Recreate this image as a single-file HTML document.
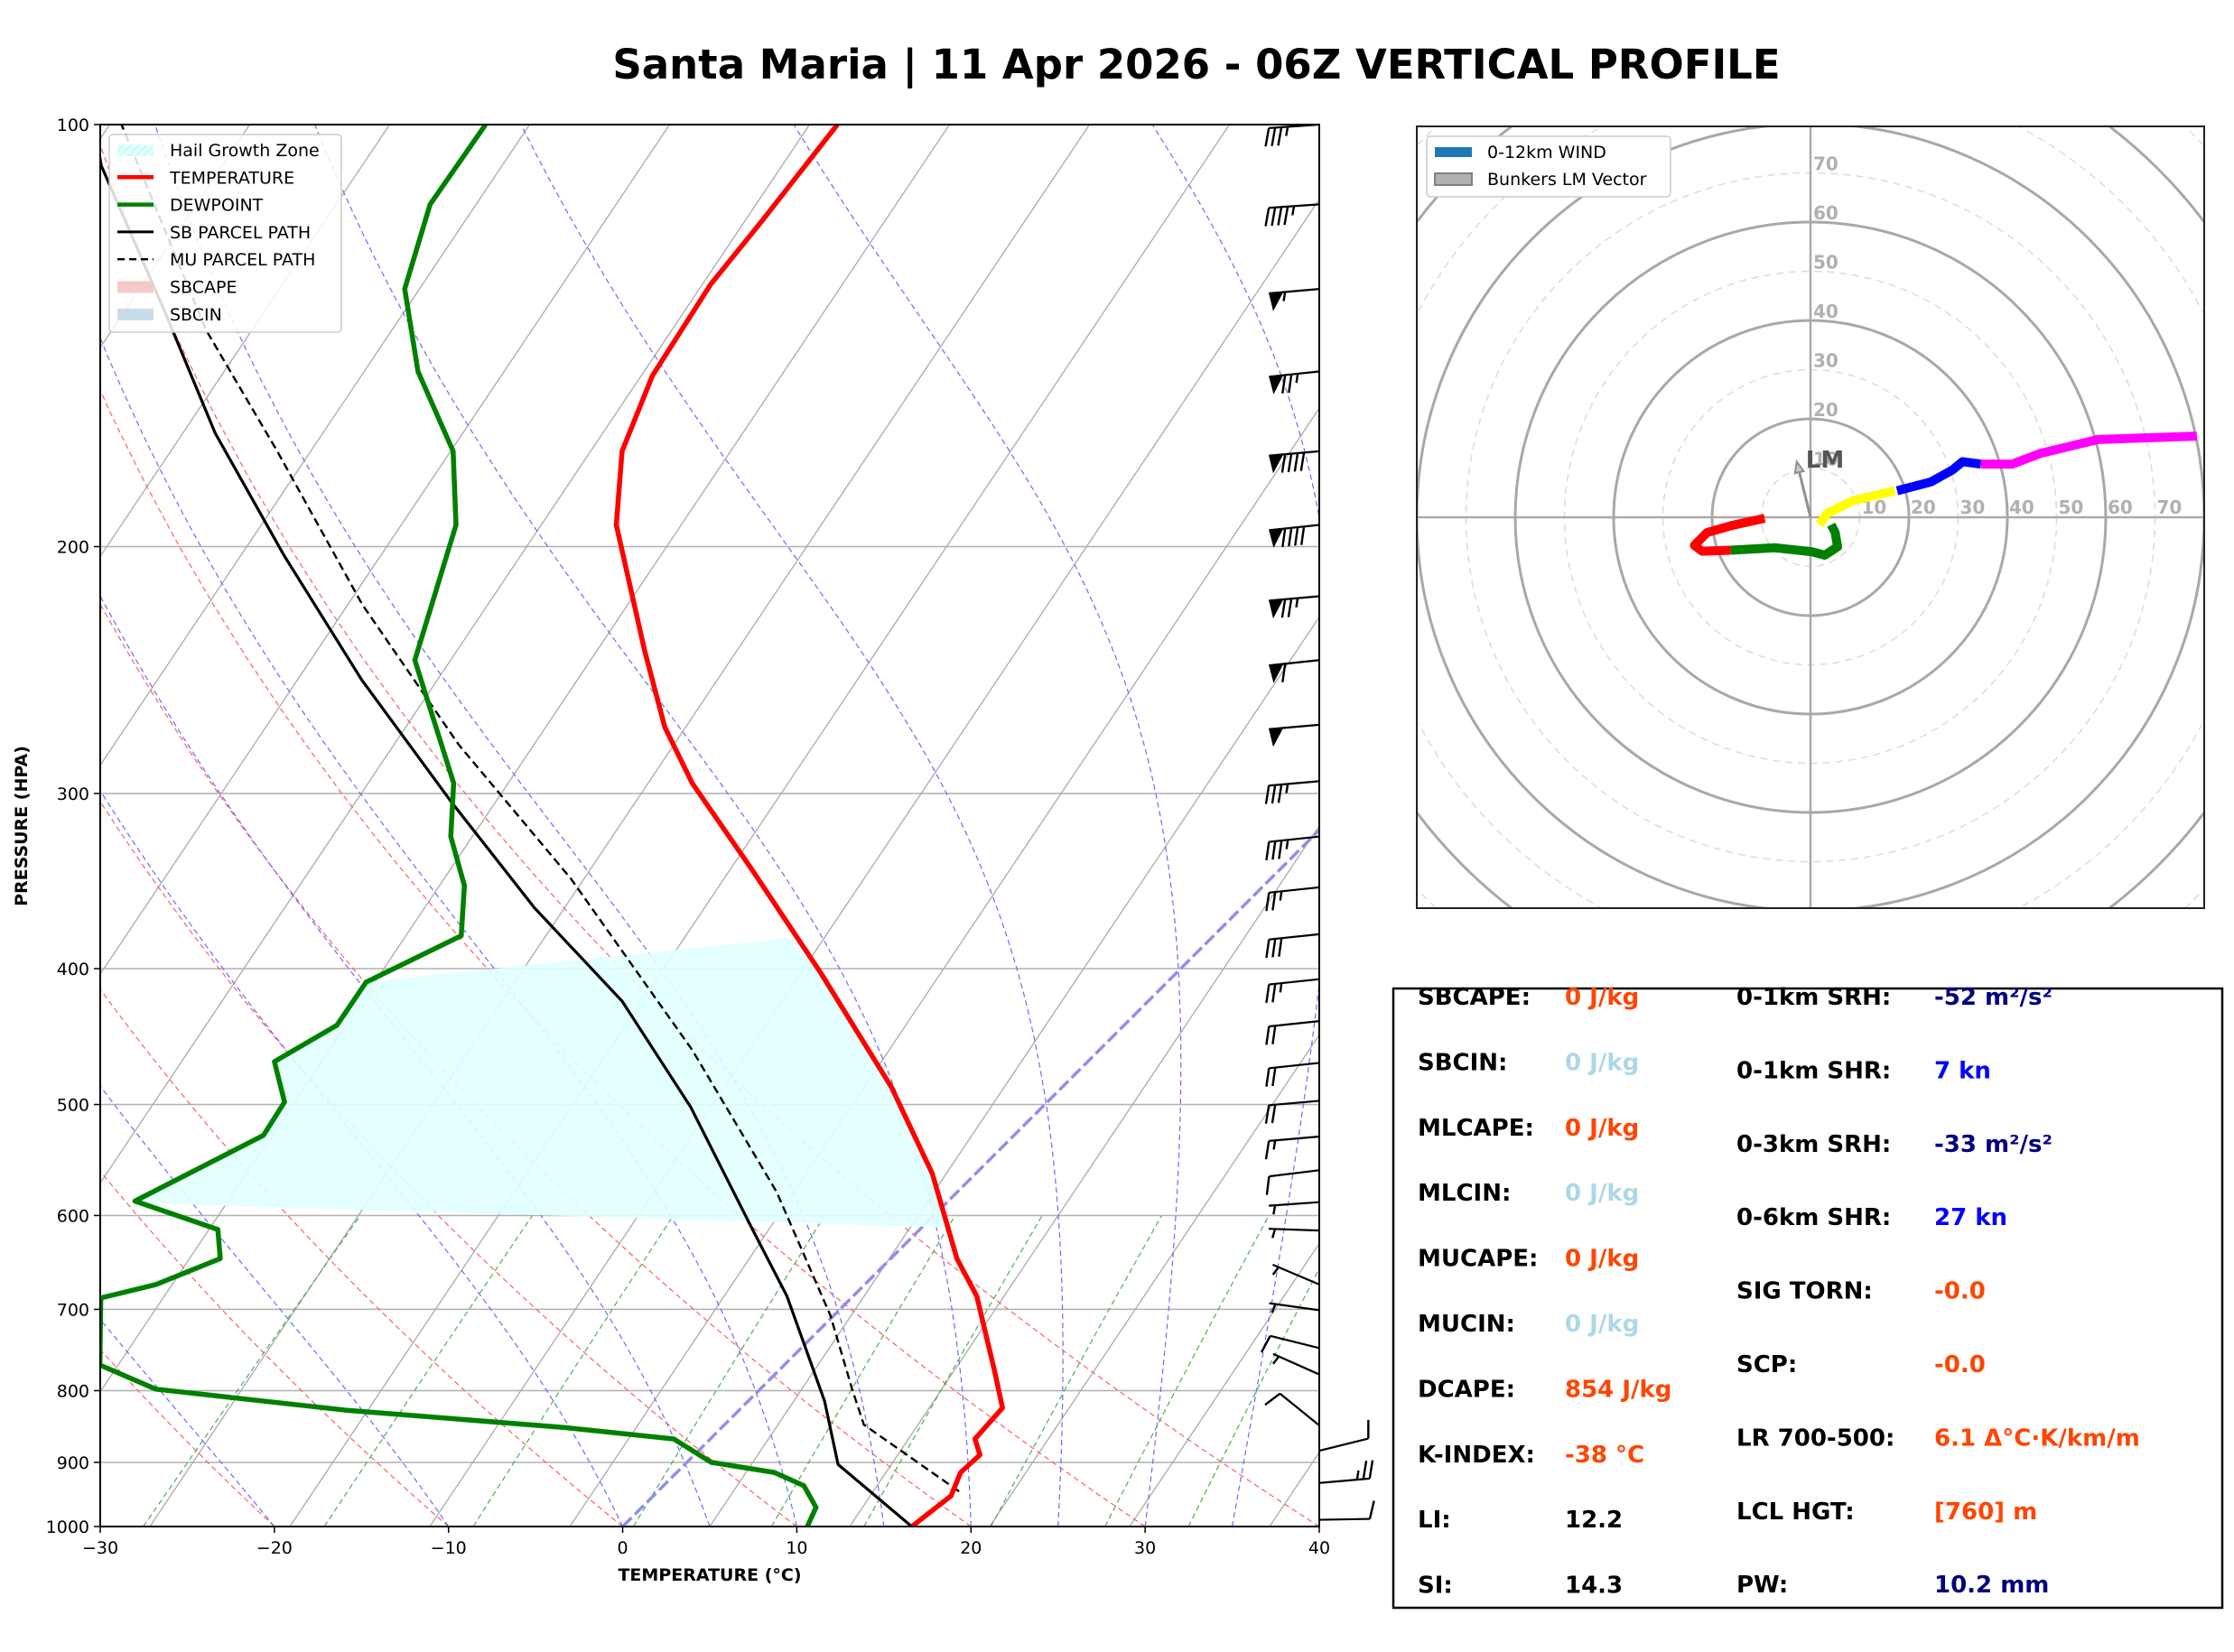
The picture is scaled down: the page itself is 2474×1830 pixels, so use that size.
<!DOCTYPE html>
<html><head><meta charset="utf-8">
<style>
html,body{margin:0;padding:0;background:#fff;}
svg{display:block;font-family:"DejaVu Sans","Liberation Sans",sans-serif;}
</style></head>
<body>
<svg id="root" width="2474" height="1830" viewBox="0 0 2474 1830" xmlns="http://www.w3.org/2000/svg">
<defs>
<clipPath id="plotclip"><rect x="111" y="138" width="1350" height="1553"/></clipPath>
<clipPath id="hodoclip"><rect x="1569" y="140" width="872" height="866"/></clipPath>
<pattern id="hatch" width="6" height="6" patternUnits="userSpaceOnUse" patternTransform="rotate(45)"><line x1="0" y1="0" x2="0" y2="6" stroke="#bbeeee" stroke-width="1.5"/></pattern>
</defs>
<text x="1325" y="87" text-anchor="middle" font-size="45" font-weight="bold">Santa Maria | 11 Apr 2026 - 06Z VERTICAL PROFILE</text>
<g id="skew"></g>
<g id="hodo"></g>
<g id="stats">
<rect x="1543" y="1095" width="918" height="686" fill="none" stroke="#000" stroke-width="2.5"/>
</g>
</svg>
<script>
// ---------- data ----------
const tempP = [1000,951,915,889,866,823,776,685,644,560,486,403,340,295,269,237,193,171,151,130,117,100];
const tempT = [16.6,17.1,16.3,16.4,15.2,15.0,12.5,7.1,3.8,-2.5,-9.8,-20.4,-30.3,-38.7,-43.5,-49.1,-57.9,-61.8,-64.4,-66.3,-67.0,-68.2];
const dewP = [1000,969,935,915,900,866,850,826,798,767,687,672,644,614,586,526,498,466,439,409,379,349,322,295,241,193,171,150,131,114,100];
const dewT = [10.6,10.0,8.05,5.6,1.4,-2.1,-9.0,-22.6,-34.7,-39.3,-43.1,-40.7,-38.5,-40.3,-46.7,-43.1,-43.8,-46.7,-45.2,-46.0,-43.2,-45.9,-49.5,-52.4,-61.7,-67.1,-71.5,-78.1,-83.6,-87.0,-88.4];
const sbP = [1000,903,814,685,614,502,422,362,304,249,203,166,137,107,95];
const sbT = [16.6,8.8,4.4,-3.8,-9.6,-20.2,-30.2,-40.6,-51.5,-63.6,-75.2,-86.2,-95.7,-108.1,-113];
const muP = [944,846,800,707,577,457,345,277,220,171,140,100];
const muT = [17.3,8.0,5.4,-0.2,-10.4,-23.4,-40.2,-54.3,-67.9,-81.6,-92.7,-109.3];
const hgzTdRange = [409,588];
const hgzTRange = [380,612];
const pressureTicks = [100,200,300,400,500,600,700,800,900,1000];
const tempTicks = [-30,-20,-10,0,10,20,30,40];
const mixingRatios = [0.4,1,2,4,7,10,16,24,32];
const dryThetas = [-30,-20,-10,0,10,20,30,40];
const moistT0 = [-30,-20,-10,0,5,10,15,20,25,30,35,40];
const barbP = [100,114,131,150,171,193,217,241,268,294,322,350,378,407,436,467,497,527,557,587,615,672,701,746,779,847,883,931,989];
const barbSpd = [35,45,55,75,90,90,75,60,50,35,35,25,30,25,20,20,20,15,10,5,5,5,5,10,5,10,10,25,10];
const barbDir = [266,266,265,264,265,264,265,264,265,265,264,264,264,264,264,264,265,265,263,266,272,293,278,284,294,309,76,85,89];
const hodoRedU = [-9.3,-15.7,-21,-23.6,-22,-16.2];
const hodoRedV = [-0.2,-1.6,-3.1,-5.7,-6.9,-6.7];
const hodoGreenU = [-16.2,-7.2,0.2,2.9,5.5,5,4.2];
const hodoGreenV = [-6.7,-6.2,-7,-7.7,-6,-3.1,-1.5];
const hodoYellowU = [1.8,3.4,8.7,17.1];
const hodoYellowV = [-1.5,0.8,3.4,5.4];
const hodoBlueU = [17.6,24.5,28.8,30.9,34.6];
const hodoBlueV = [5.4,7.2,9.6,11.3,10.8];
const hodoMagU = [34.6,41,46.8,58.4,78.5];
const hodoMagV = [10.8,10.8,13,15.8,16.5];
const lmU = -2.8, lmV = 11.3;
const hodoRings = [10,20,30,40,50,60,70,80,90,100,110];

// ---------- helpers ----------
const NS="http://www.w3.org/2000/svg";
function mk(tag, attrs, parent){const e=document.createElementNS(NS,tag);for(const k in attrs)e.setAttribute(k,attrs[k]);if(parent)parent.appendChild(e);return e;}
const X0=111, Y0=1691, PPD=1350/70, LOGH=1553;
function Y(p){return Y0 - Math.log10(1000/p)*LOGH;}
function X(T,p){return X0 + (T+30)*PPD + (Y0 - Y(p));}
function pathFrom(ps,ts){return ps.map((p,i)=>(i?'L':'M')+X(ts[i],p).toFixed(1)+','+Y(p).toFixed(1)).join(' ');}
function interp(ps,ts,p){const lp=Math.log(p);for(let i=0;i<ps.length-1;i++){const a=Math.log(ps[i]),b=Math.log(ps[i+1]);if((lp<=a&&lp>=b)||(lp>=a&&lp<=b)){const f=(lp-a)/(b-a);return ts[i]+f*(ts[i+1]-ts[i]);}}return ts[ts.length-1];}

const skew=document.getElementById('skew');
const clipG=mk('g',{'clip-path':'url(#plotclip)'},skew);



// isobars
pressureTicks.forEach(p=>{const l=mk('line',{x1:X0,x2:1461,y1:Y(p),y2:Y(p),stroke:'#b0b0b0','stroke-width':1.5},clipG);

});
// gray grid diagonals
for(let k=-12;k<=10;k++){const xb=166+k*155;const l=mk('line',{x1:xb,y1:Y0,x2:xb+0.67*1553,y2:138,stroke:'#aaaaaa','stroke-width':1.3},clipG);

}
// dry adiabats
dryThetas.forEach(th=>{const ps=[],ts=[];for(let p=1000;p>=100;p-=20){ps.push(p);ts.push((th+273.15)*Math.pow(p/1000,0.2857)-273.15);}
const l=mk('path',{d:pathFrom(ps,ts),fill:'none',stroke:'#ff6060','stroke-width':1.2,'stroke-dasharray':'6,4'},clipG);

});
// moist adiabats
function es(Tc){return 6.112*Math.exp(17.67*Tc/(Tc+243.5));}
moistT0.forEach(t0=>{let T=t0+273.15;const ps=[1000],ts=[t0];
for(let p=1000;p>100;p-=5){const e=es(T-273.15);const rs=0.622*e/(p-e);const dTdp=(287*T+2.5e6*rs)/(1005+2.5e6*2.5e6*rs*0.622/(287*T*T))/p;T-=dTdp*5;ps.push(p-5);ts.push(T-273.15);}
const l=mk('path',{d:pathFrom(ps,ts),fill:'none',stroke:'#6a6aff','stroke-width':1.2,'stroke-dasharray':'6,4'},clipG);

});
// mixing ratio lines
mixingRatios.forEach(w=>{const ps=[],ts=[];for(let p=1000;p>=600;p-=20){const e=p*(w/1000)/(0.622+w/1000);const a=Math.log(e/6.112);ps.push(p);ts.push(243.5*a/(17.67-a));}
const l=mk('path',{d:pathFrom(ps,ts),fill:'none',stroke:'#4caf50','stroke-width':1.2,'stroke-dasharray':'6,4'},clipG);

});
// zero isotherm
const zi=mk('line',{x1:X(0,1000),y1:Y(1000),x2:X(0,100),y2:Y(100),stroke:'#8f8fe8','stroke-width':3.5,'stroke-dasharray':'14,5'},clipG);



// hail growth zone
(function(){let d='';const n=30;
for(let i=0;i<=n;i++){const p=hgzTdRange[0]+(hgzTdRange[1]-hgzTdRange[0])*i/n;const t=interp(dewP,dewT,p);d+=(i?'L':'M')+X(t,p).toFixed(1)+','+Y(p).toFixed(1)+' ';}
for(let i=0;i<=n;i++){const p=hgzTRange[1]-(hgzTRange[1]-hgzTRange[0])*i/n;const t=interp(tempP,tempT,p);d+='L'+X(t,p).toFixed(1)+','+Y(p).toFixed(1)+' ';}
d+='Z';const e=mk('path',{d:d,fill:'#e0ffff','fill-opacity':0.9,stroke:'none'},clipG);

})();

// profiles
const sb=mk('path',{d:pathFrom(sbP,sbT),fill:'none',stroke:'#000','stroke-width':3.2},clipG);


const mu=mk('path',{d:pathFrom(muP,muT),fill:'none',stroke:'#000','stroke-width':2.4,'stroke-dasharray':'9,5'},clipG);


const dw=mk('path',{d:pathFrom(dewP,dewT),fill:'none',stroke:'#008000','stroke-width':5.5,'stroke-linejoin':'round'},clipG);


const tl=mk('path',{d:pathFrom(tempP,tempT),fill:'none',stroke:'#ff0000','stroke-width':5.5,'stroke-linejoin':'round'},clipG);



// axes frame
const fr=mk('rect',{x:X0,y:138,width:1350,height:1553,fill:'none',stroke:'#000','stroke-width':2},skew);


pressureTicks.forEach(p=>{mk('line',{x1:X0-7,x2:X0,y1:Y(p),y2:Y(p),stroke:'#000','stroke-width':1.5},skew);
const t=mk('text',{x:X0-12,y:Y(p)+7,'text-anchor':'end','font-size':19},skew);t.textContent=p;

});
tempTicks.forEach(T=>{const x=X0+(T+30)*PPD;mk('line',{x1:x,x2:x,y1:Y0,y2:Y0+7,stroke:'#000','stroke-width':1.5},skew);
const t=mk('text',{x:x,y:Y0+30,'text-anchor':'middle','font-size':19},skew);t.textContent=(T<0?'\u2212'+(-T):T);

});
const xl=mk('text',{x:786,y:1751,'text-anchor':'middle','font-size':19,'font-weight':'bold'},skew);xl.textContent='TEMPERATURE (\u00B0C)';


const yl=mk('text',{x:0,y:0,'text-anchor':'middle','font-size':19,'font-weight':'bold',transform:'translate(30,915) rotate(-90)'},skew);yl.textContent='PRESSURE (HPA)';



// wind barbs
function drawBarb(p,spd,dir){const g=mk('g',{},skew);


const bx=1461,by=Y(p),L=56,r=dir*Math.PI/180;const sx=Math.sin(r),sy=-Math.cos(r);
const tx=bx+sx*L,ty=by+sy*L;mk('line',{x1:bx,y1:by,x2:tx,y2:ty,stroke:'#000','stroke-width':2.2},g);
const px=sy,py=-sx;let s=Math.round(spd/5)*5;let pos=0;const step=7,bl=20;
while(s>=50){const ax=tx-sx*pos,ay=ty-sy*pos,cx=tx-sx*(pos+16),cy=ty-sy*(pos+16);
mk('path',{d:`M${ax},${ay} L${cx},${cy} L${ax-sx*3+px*bl},${ay-sy*3+py*bl} Z`,fill:'#000'},g);pos+=18;s-=50;}
while(s>=10){const ax=tx-sx*pos,ay=ty-sy*pos;mk('line',{x1:ax,y1:ay,x2:ax+px*bl+sx*5,y2:ay+py*bl+sy*5,stroke:'#000','stroke-width':2.4},g);pos+=step;s-=10;}
if(s>=5){if(pos===0)pos=step;const ax=tx-sx*pos,ay=ty-sy*pos;mk('line',{x1:ax,y1:ay,x2:ax+px*bl*0.5+sx*2.5,y2:ay+py*bl*0.5+sy*2.5,stroke:'#000','stroke-width':2.4},g);}}
barbP.forEach((p,i)=>drawBarb(p,barbSpd[i],barbDir[i]));

// skewt legend
(function(){const g=mk('g',{},skew);


mk('rect',{x:121,y:149,width:257,height:219,rx:4,fill:'#fff','fill-opacity':0.85,stroke:'#ccc','stroke-width':1.5},g);
const items=[['patch','#dffefe','Hail Growth Zone'],['line','#ff0000','TEMPERATURE'],['line','#008000','DEWPOINT'],['line','#000','SB PARCEL PATH'],['dash','#000','MU PARCEL PATH'],['patch','#f6c9c9','SBCAPE'],['patch','#c8dcea','SBCIN']];
items.forEach((it,i)=>{const y=166+i*30.3;
if(it[0]==='patch'){mk('rect',{x:130,y:y-6,width:40,height:13,fill:it[1]},g);if(i===0)mk('rect',{x:130,y:y-6,width:40,height:13,fill:'url(#hatch)'},g);}
else mk('line',{x1:130,x2:170,y1:y,y2:y,stroke:it[1],'stroke-width':it[0]==='dash'?2.4:(i===3?3:4.5),'stroke-dasharray':it[0]==='dash'?'8,5':'none'},g);
const t=mk('text',{x:188,y:y+7,'font-size':19},g);t.textContent=it[2];

});})();

// ---------- hodograph ----------
const hodo=document.getElementById('hodo');
const HX=2005,HY=573,K=5.45;
mk('rect',{x:1569,y:140,width:872,height:866,fill:'#fff'},hodo);
const hg=mk('g',{'clip-path':'url(#hodoclip)'},hodo);


hodoRings.forEach(r=>{const c=mk('circle',{cx:HX,cy:HY,r:r*K,fill:'none',stroke:r%20===0?'#a8a8a8':'#dddddd','stroke-width':r%20===0?3:1.6,'stroke-dasharray':r%20===0?'none':'8,6'},hg);

});
mk('line',{x1:1569,x2:2441,y1:HY,y2:HY,stroke:'#aaaaaa','stroke-width':2.5},hg);
mk('line',{x1:HX,x2:HX,y1:140,y2:1006,stroke:'#aaaaaa','stroke-width':2.5},hg);
for(let r=10;r<=70;r+=10){
const t1=mk('text',{x:HX+3,y:HY-r*K-3,'font-size':20,'font-weight':'bold',fill:'#b0b0b0'},hg);t1.textContent=r;


const t2=mk('text',{x:HX+r*K+2,y:HY-4,'font-size':20,'font-weight':'bold',fill:'#b0b0b0'},hg);t2.textContent=r;

}
function hseg(us,vs,col,name){const d=us.map((u,i)=>(i?'L':'M')+(HX+u*K).toFixed(1)+','+(HY-vs[i]*K).toFixed(1)).join(' ');
const e=mk('path',{d:d,fill:'none',stroke:col,'stroke-width':10,'stroke-linejoin':'round'},hg);

}
hseg(hodoRedU,hodoRedV,'#ff0000','hodo-segment-red');
hseg(hodoGreenU,hodoGreenV,'#008000','hodo-segment-green');
hseg(hodoYellowU,hodoYellowV,'#ffff00','hodo-segment-yellow');
hseg(hodoBlueU,hodoBlueV,'#0000ff','hodo-segment-blue');
hseg(hodoMagU,hodoMagV,'#ff00ff','hodo-segment-magenta');
(function(){const ex=HX+lmU*K,ey=HY-lmV*K;const ang=Math.atan2(ey-HY,ex-HX);
mk('line',{x1:HX,y1:HY,x2:ex,y2:ey,stroke:'#909090','stroke-width':3},hg);
const hl=12,hw=5;const bx=ex-Math.cos(ang)*hl,by=ey-Math.sin(ang)*hl;
const a=mk('path',{d:`M${ex},${ey} L${bx-Math.sin(ang)*hw},${by+Math.cos(ang)*hw} L${bx+Math.sin(ang)*hw},${by-Math.cos(ang)*hw} Z`,fill:'#c8c8c8',stroke:'#909090','stroke-width':2},hg);


const t=mk('text',{x:2021,y:518,'text-anchor':'middle','font-size':26,'font-weight':'bold',fill:'#555'},hg);t.textContent='LM';

})();
mk('rect',{x:1569,y:140,width:872,height:866,fill:'none',stroke:'#222','stroke-width':2},hodo);
(function(){const g=mk('g',{},hodo);


mk('rect',{x:1580,y:151,width:270,height:67,rx:4,fill:'#fff',stroke:'#ccc','stroke-width':1.5},g);
mk('rect',{x:1589,y:163,width:41,height:11,fill:'#1f77b4'},g);
mk('rect',{x:1589,y:192,width:41,height:13,fill:'#b0b0b0',stroke:'#808080','stroke-width':2},g);
const t1=mk('text',{x:1647,y:175,'font-size':19},g);t1.textContent='0-12km WIND';


const t2=mk('text',{x:1647,y:205,'font-size':19},g);t2.textContent='Bunkers LM Vector';

})();

// ---------- stats ----------
const stats=document.getElementById('stats');
const leftLabels=['SBCAPE:','SBCIN:','MLCAPE:','MLCIN:','MUCAPE:','MUCIN:','DCAPE:','K-INDEX:','LI:','SI:'];
const leftVals=['0 J/kg','0 J/kg','0 J/kg','0 J/kg','0 J/kg','0 J/kg','854 J/kg','-38 \u00B0C','12.2','14.3'];
const leftCols=['#ff4500','#add8e6','#ff4500','#add8e6','#ff4500','#add8e6','#ff4500','#ff4500','#000','#000'];
const rightLabels=['0-1km SRH:','0-1km SHR:','0-3km SRH:','0-6km SHR:','SIG TORN:','SCP:','LR 700-500:','LCL HGT:','PW:'];
const rightVals=['-52 m\u00B2/s\u00B2','7 kn','-33 m\u00B2/s\u00B2','27 kn','-0.0','-0.0','6.1 \u0394\u00B0C\u00B7K/km/m','[760] m','10.2 mm'];
const rightCols=['#000080','#0000ff','#000080','#0000ff','#ff4500','#ff4500','#ff4500','#ff4500','#000080'];
leftLabels.forEach((l,i)=>{const y=1113+i*72.4;
const a=mk('text',{x:1570,y:y,'font-size':26,'font-weight':'bold'},stats);a.textContent=l;


const b=mk('text',{x:1733,y:y,'font-size':26,'font-weight':'bold',fill:leftCols[i]},stats);b.textContent=leftVals[i];

});
rightLabels.forEach((l,i)=>{const y=1113+i*81.4;
const a=mk('text',{x:1923,y:y,'font-size':26,'font-weight':'bold'},stats);a.textContent=l;


const b=mk('text',{x:2142,y:y,'font-size':26,'font-weight':'bold',fill:rightCols[i]},stats);b.textContent=rightVals[i];

});
</script>
</body></html>
